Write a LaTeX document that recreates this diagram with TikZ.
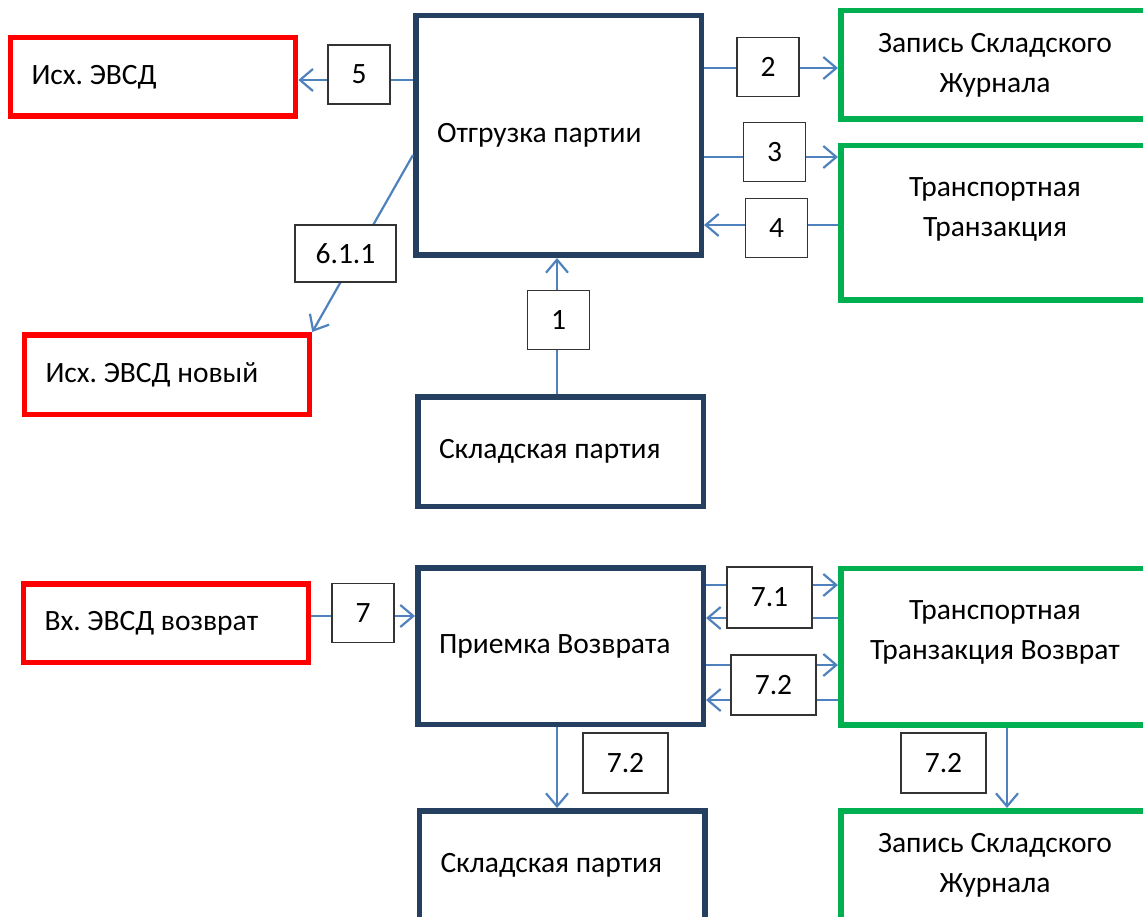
\documentclass[tikz,border=0pt]{standalone}
\usepackage{fontspec}
\setmainfont{Carlito}
\usetikzlibrary{arrows.meta}
\definecolor{ncol}{RGB}{36,63,96}
\definecolor{rcol}{RGB}{255,0,0}
\definecolor{gcol}{RGB}{0,176,80}
\definecolor{acol}{RGB}{79,129,189}
\tikzset{every node/.style={font=\fontsize{29.5}{40}\selectfont\frenchspacing}}
\tikzset{nbox/.style={draw=ncol,line width=5.5pt,minimum width=285.5pt,text width=243pt,inner xsep=21pt,align=flush left}}
\tikzset{rbox/.style={nbox,draw=rcol,minimum width=284.5pt}}
\tikzset{gbox/.style={draw=gcol,line width=5.5pt,minimum width=308.5pt,align=center}}
\tikzset{num/.style={draw=black!80,line width=1.3pt,fill=white,minimum width=62pt,minimum height=59pt,inner sep=0pt}}
\tikzset{flow/.style={acol,line width=2.2pt,-{Straight Barb[length=13pt,width=22pt]}}}

\begin{document}
\begin{tikzpicture}[x=1pt,y=-1pt]
\clip (0,0) rectangle (1143,917);

% shipment
\node [nbox,minimum height=239.5pt] (otgr) at (558.5,135.5) {Отгрузка партии};
\node [rbox,minimum height=78.5pt] (isx) at (153,77) {Исх. ЭВСД};
\node [gbox,minimum height=108.5pt] (zap1) at (995,65) {Запись Складского\\Журнала};
\node [gbox,minimum height=154.5pt,label={[yshift=14pt,align=center]center:Транспортная\\Транзакция}] (trans1) at (995,223) {};
\node [rbox,minimum height=79.5pt] (isxnew) at (167,374.5) {Исх. ЭВСД новый};
\node [nbox,minimum height=109.5pt] (skl1) at (560.5,451.5) {Складская партия};

% return
\node [rbox,minimum height=78.5pt] (vxret) at (166,623) {Вх. ЭВСД возврат};
\node [nbox,minimum height=156.5pt] (priem) at (560.5,646) {Приемка Возврата};
\node [gbox,minimum height=156.5pt,label={[yshift=14pt,align=center]center:Транспортная\\Транзакция Возврат}] (transr) at (995,646.5) {};
\node [nbox,minimum height=108.5pt] (skl2) at (562,865) {Складская партия};
\node [gbox,minimum height=108.5pt] (zap2) at (995,865) {Запись Складского\\Журнала};

\draw [flow] (otgr.west |- 0,80) -- (isx.east |- 0,80);
\draw [flow] (otgr.east |- 0,68) -- (zap1.west |- 0,68);
\draw [flow] (otgr.east |- 0,157) -- (trans1.west |- 0,157);
\draw [flow] (trans1.west |- 0,225) -- (otgr.east |- 0,225);
\draw [flow] (otgr.west |- 0,155) -- (isxnew.north east);
\draw [flow] (skl1.north -| 557,0) -- (otgr.south -| 557,0);

\draw [flow] (vxret.east |- 0,616) -- (priem.west |- 0,616);
\draw [flow] (priem.east |- 0,585) -- (transr.west |- 0,585);
\draw [flow] (transr.west |- 0,618) -- (priem.east |- 0,618);
\draw [flow] (priem.east |- 0,665) -- (transr.west |- 0,665);
\draw [flow] (transr.west |- 0,700) -- (priem.east |- 0,700);
\draw [flow] (priem.south -| 557,0) -- (skl2.north -| 557,0);
\draw [flow] (transr.south -| 1007,0) -- (zap2.north -| 1007,0);

\node [num] (n5) at (359,74.5) {5};
\node [num] (n2) at (768,67) {2};
\node [num] (n3) at (774.5,152) {3};
\node [num] (n4) at (776.5,228) {4};
\node [num,minimum width=101pt,minimum height=57pt] (n611) at (345.5,253.5) {6.1.1};
\node [num] (n1) at (558.5,320) {1};
\node [num] (n7) at (363,613) {7};
\node [num,minimum width=85pt,minimum height=61pt] (n71) at (769.5,597.5) {7.1};
\node [num,minimum width=85pt,minimum height=60pt] (n72a) at (773.5,685) {7.2};
\node [num,minimum width=85pt,minimum height=60pt] (n72b) at (625.5,763) {7.2};
\node [num,minimum width=85pt,minimum height=60pt] (n72c) at (943.5,763) {7.2};
\end{tikzpicture}
\end{document}
